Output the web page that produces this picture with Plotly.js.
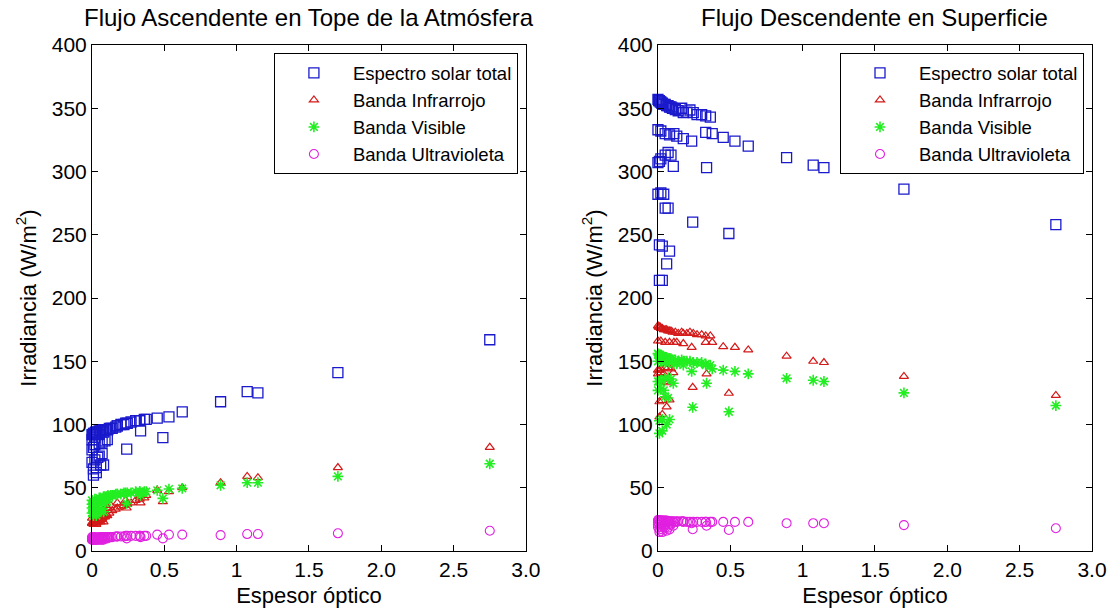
<!DOCTYPE html>
<html>
<head>
<meta charset="utf-8">
<script src="https://cdn.plot.ly/plotly-3.0.1.min.js"></script>
<style>html,body{margin:0;padding:0;background:#fff;}#chart{width:1115px;height:613px;}</style>
</head>
<body>
<div id="chart"></div>
<script>
// Espesor óptico (shared by both panels), grouped by observation set
const espesor = [
  // group A
  0.0, 0.005, 0.01, 0.015, 0.02, 0.025, 0.03, 0.04, 0.05, 0.06, 0.07, 0.08, 0.09, 0.10, 0.12, 0.14, 0.164, 0.175, 0.20, 0.221, 0.244, 0.27, 0.302, 0.33, 0.362,
  // group B
  0.0, 0.02, 0.05, 0.08, 0.11, 0.13, 0.175, 0.233, 0.33, 0.375, 0.451, 0.532, 0.624, 0.889, 1.073, 1.147, 1.70, 2.75,
  // group C
  0.0, 0.01, 0.02, 0.05, 0.07, 0.09, 0.106, 0.336,
  // group D
  0.0, 0.02, 0.04, 0.05, 0.07, 0.24, 0.49,
  // group E
  0.01, 0.03, 0.08, 0.06,
  // group F
  0.01, 0.03
];

// Flujo Ascendente en Tope de la Atmósfera (W/m2)
const toaTotal = [
  92, 92, 93, 93, 93, 94, 94, 94, 95, 95, 95, 96, 96, 96, 97, 97, 98, 99, 100, 100, 101, 102, 103, 103, 104,
  88, 90, 92, 94, 96, 97, 99, 101, 103, 104, 105, 106, 110, 118, 126, 125, 141, 167,
  80, 82, 84, 85, 86, 87, 88, 95,
  70, 72, 74, 75, 77, 80.6, 89.6,
  65, 66, 68, 68,
  60, 62
];
const toaIR = [
  22, 22, 23, 23, 23, 24, 24, 25, 25, 26, 27, 27, 28, 29, 30, 32, 33, 34, 35, 36, 37, 38, 40, 41, 42,
  26, 28, 30, 32, 34, 36, 38, 40, 43, 44, 48, 47, 50, 54, 59, 58, 66, 82,
  22, 22, 23, 25, 26, 27, 28, 38,
  22, 23, 23, 24, 25, 34, 39,
  22, 22, 23, 23,
  21, 21
];
const toaVis = [
  37, 37, 38, 38, 38, 39, 39, 40, 40, 41, 41, 42, 42, 43, 43, 44, 45, 45, 45, 46, 46, 46, 47, 47, 47,
  40, 41, 42, 43, 44, 44, 45, 46, 47, 47, 48, 49, 49.5, 52, 54, 54, 59, 69,
  34, 35, 36, 37, 38, 38, 39, 44,
  30, 31, 31, 32, 33, 37.7, 41.6,
  30, 30, 31, 31,
  28, 28
];
const toaUV = [
  10, 10, 10, 10, 10, 10.5, 10.5, 10.5, 10.5, 10.5, 11, 11, 11, 11, 11, 11, 11.5, 11.5, 11.5, 11.5, 12, 12, 12, 12, 12,
  11, 11, 11, 11, 11, 11, 11.5, 12, 12, 12, 13, 13, 13, 12.6, 13.4, 13.4, 14, 16,
  9, 9, 9.5, 9.5, 10, 10, 10, 11,
  9, 9, 9, 9, 9, 10, 10,
  9, 9, 9, 9,
  9, 9
];

// Flujo Descendente en Superficie (W/m2)
const sfcTotal = [
  357, 356, 356, 355, 355, 354, 354, 353, 353, 352, 352, 351, 351, 350, 349, 348, 350, 346.5, 347, 348.6, 346.5, 345, 345, 344, 343,
  333, 332, 330, 329, 330, 328, 326, 324, 331, 330, 327, 324, 320, 311, 305, 303, 286, 258,
  307, 308, 310, 313, 315, 313, 304, 303,
  282, 283, 282, 271, 271, 260, 251,
  242, 241, 237, 227,
  214, 214
];
const sfcIR = [
  178, 177, 177, 177, 176, 176, 176, 175, 175, 175, 174, 174, 174, 173, 173, 172, 173, 172, 172, 173, 172, 171, 171, 170, 170,
  166, 166, 165, 165, 165, 165, 164, 161, 165, 165, 161.5, 161, 159, 154, 150, 149, 138, 123,
  143, 143, 144, 145, 145, 144, 141, 140,
  140, 141, 140, 134, 133, 129.4, 124.7,
  118, 119, 119.4, 114,
  106, 108
];
const sfcVis = [
  156, 155, 155, 155, 154, 154, 154, 153, 153, 153, 152, 152, 152, 151, 151, 150, 151, 150, 150, 150, 149, 149, 149, 148, 147,
  150, 150, 149, 149, 148, 148, 147, 142, 147, 144, 143, 142, 140, 136.5, 135, 134, 125, 115,
  134, 134, 135, 136, 137, 136, 132.6, 132.6,
  127, 128, 127, 122, 121, 113.6, 110.1,
  103, 104, 104, 100,
  93, 95
];
const sfcUV = [
  24.5, 24.5, 24, 24, 24, 24, 24, 24, 24, 24, 23.5, 23.5, 23.5, 23.5, 23.5, 23.5, 23.5, 23.5, 23, 23, 23, 23, 23, 23, 23,
  23, 23, 23, 23, 23, 23, 23, 22, 23, 23, 23, 23, 23, 22, 22, 22, 20.5, 18,
  21, 21, 21, 21, 21, 21, 20, 20,
  19, 19, 19, 18.5, 18.5, 17.2, 16.6,
  17, 17, 17, 16,
  15, 15
];

const seriesNames = ['Espectro solar total', 'Banda Infrarrojo', 'Banda Visible', 'Banda Ultravioleta'];
const titles = ['Flujo Ascendente en Tope de la Atmósfera', 'Flujo Descendente en Superficie'];
const xTickVals = [0, 0.5, 1, 1.5, 2, 2.5, 3];
const xTickText = ['0', '0.5', '1', '1.5', '2.0', '2.5', '3.0'];
const yTickVals = [0, 50, 100, 150, 200, 250, 300, 350, 400];

const styles = [
  {symbol: 'square-open', color: '#1a1acc', size: 10, lw: 1.3},
  {symbol: 'triangle-up-open', color: '#d41a1a', size: 8, lw: 1.2},
  {symbol: 'asterisk-open', color: '#22ee22', size: 9, lw: 1.6},
  {symbol: 'circle-open', color: '#e020e0', size: 9, lw: 1.1}
];

const panels = [
  {x: 'x', y: 'y', legend: 'legend', data: [toaTotal, toaIR, toaVis, toaUV]},
  {x: 'x2', y: 'y2', legend: 'legend2', data: [sfcTotal, sfcIR, sfcVis, sfcUV]}
];

const traces = [];
panels.forEach(p => {
  p.data.forEach((vals, i) => {
    traces.push({
      type: 'scatter', mode: 'markers',
      x: espesor, y: vals,
      name: seriesNames[i],
      xaxis: p.x, yaxis: p.y, legend: p.legend,
      marker: {symbol: styles[i].symbol, size: styles[i].size, color: styles[i].color, line: {width: styles[i].lw, color: styles[i].color}},
      cliponaxis: false
    });
  });
});
const F = 'Liberation Sans, Arial, sans-serif';
function xAxis(dom) {
  return {
    domain: dom, range: [0, 3], tickvals: xTickVals, ticktext: xTickText,
    ticks: 'inside', ticklen: 6, tickcolor: '#000', tickwidth: 1,
    showline: true, linecolor: '#000', linewidth: 1, mirror: 'ticks',
    showgrid: false, zeroline: false,
    tickfont: {family: F, size: 21, color: '#000'},
    title: {text: 'Espesor óptico', font: {family: F, size: 22, color: '#000'}, standoff: 7},
    automargin: false
  };
}
function yAxis(anchor) {
  return {
    domain: [0.1011, 0.9266], range: [0, 400], tickvals: yTickVals, anchor: anchor,
    ticks: 'inside', ticklen: 6, tickcolor: '#000', tickwidth: 1,
    showline: true, linecolor: '#000', linewidth: 1, mirror: 'ticks',
    showgrid: false, zeroline: false,
    tickfont: {family: F, size: 21, color: '#000'},
    title: {text: 'Irradiancia (W/m<sup>2</sup>)', font: {family: F, size: 22, color: '#000'}, standoff: 9},
    automargin: false
  };
}
const legendBase = {
  bgcolor: '#fff', bordercolor: '#000', borderwidth: 1,
  font: {family: F, size: 18.5, color: '#000'},
  xanchor: 'right', yanchor: 'top', y: 0.913, tracegroupgap: 0, itemwidth: 68
};
const layout = {
  width: 1115, height: 613,
  margin: {l: 0, r: 0, t: 0, b: 0},
  paper_bgcolor: '#fff', plot_bgcolor: '#fff',
  showlegend: true,
  xaxis: Object.assign(xAxis([0.0825, 0.4717]), {anchor: 'y'}),
  yaxis: yAxis('x'),
  xaxis2: Object.assign(xAxis([0.5901, 0.9794]), {anchor: 'y2'}),
  yaxis2: yAxis('x2'),
  legend: Object.assign({}, legendBase, {x: 0.4645}),
  legend2: Object.assign({}, legendBase, {x: 0.9722}),
  annotations: titles.map((t, i) => ({
    text: t, xref: (i === 0 ? 'x domain' : 'x2 domain'), yref: 'paper',
    x: 0.5, y: 1 - 18 / 613, xanchor: 'center', yanchor: 'middle', showarrow: false,
    font: {family: F, size: 24, color: '#000'}
  }))
};
Plotly.newPlot('chart', traces, layout, {displayModeBar: false, staticPlot: true});
</script>
</body>
</html>
